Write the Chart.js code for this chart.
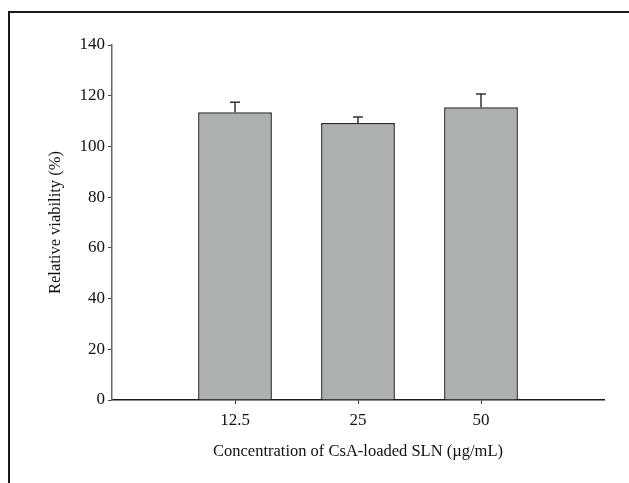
<!DOCTYPE html>
<html>
<head>
<meta charset="utf-8">
<script src="https://cdn.jsdelivr.net/npm/chart.js@4/dist/chart.umd.min.js"></script>
<style>
  html, body { margin: 0; padding: 0; background: #fff; }
  #wrap { width: 629px; height: 483px; position: relative; }
</style>
</head>
<body>
<div id="wrap"><canvas id="c" width="629" height="483"></canvas></div>
<script>
// ---- data ----
const categories = ['12.5', '25', '50'];
const viability = [113.5, 109.2, 115.5];
const viabilityErr = [3.9, 2.4, 5.2];
const yMin = 0, yMax = 140, yStep = 20;
const xTitle = 'Concentration of CsA-loaded SLN (\u00B5g/mL)';
const yTitle = 'Relative viability (%)';

// padded category axis: empty slot at each end
const labels = ['', ...categories, ''];
const values = [null, ...viability, null];
const errs = [null, ...viabilityErr, null];

const FONT = 'Liberation Serif, Times New Roman, serif';

const frame = {
  id: 'frame',
  beforeDraw(chart) {
    const ctx = chart.ctx;
    ctx.save();
    ctx.fillStyle = '#fff';
    ctx.fillRect(0, 0, chart.width, chart.height);
    ctx.strokeStyle = '#1a1a1a';
    ctx.lineWidth = 2;
    ctx.beginPath();
    ctx.moveTo(9, chart.height);
    ctx.lineTo(9, 12);
    ctx.lineTo(chart.width, 12);
    ctx.stroke();
    ctx.restore();
  }
};

const errorBars = {
  id: 'errorBars',
  afterDatasetsDraw(chart) {
    const ctx = chart.ctx;
    const meta = chart.getDatasetMeta(0);
    const y = chart.scales.y;
    ctx.save();
    ctx.strokeStyle = '#333';
    ctx.lineWidth = 1.5;
    meta.data.forEach((bar, i) => {
      const v = values[i], e = errs[i];
      if (v == null || e == null) return;
      const x = bar.x;
      const y0 = y.getPixelForValue(v);
      const y1 = y.getPixelForValue(v + e);
      ctx.beginPath();
      ctx.moveTo(x, y0);
      ctx.lineTo(x, y1);
      ctx.moveTo(x - 5, y1);
      ctx.lineTo(x + 5, y1);
      ctx.stroke();
    });
    ctx.restore();
  }
};

new Chart(document.getElementById('c'), {
  type: 'bar',
  data: {
    labels: labels,
    datasets: [{
      data: values,
      backgroundColor: '#adb0b0',
      borderColor: '#2a2a2a',
      borderWidth: 1.5,
      barPercentage: 0.6,
      categoryPercentage: 1.0
    }]
  },
  options: {
    responsive: false,
    animation: false,
    devicePixelRatio: 1,
    layout: { padding: { left: 0, right: 25, top: 45, bottom: 0 } },
    plugins: {
      legend: { display: false },
      tooltip: { enabled: false }
    },
    scales: {
      x: {
        type: 'category',
        offset: false,
        afterFit(scale) { scale.height = 83; },
        border: { display: true, color: '#1a1a1a', width: 1.5 },
        grid: {
          display: true,
          offset: false,
          drawOnChartArea: false,
          drawTicks: true,
          tickLength: 4,
          tickColor: (ctx) => (ctx.index === 0 || ctx.index === labels.length - 1) ? 'rgba(0,0,0,0)' : '#333'
        },
        ticks: {
          color: '#111',
          font: { family: FONT, size: 17 },
          padding: 6,
          maxRotation: 0,
          autoSkip: false
        },
        title: {
          display: true,
          text: xTitle,
          color: '#111',
          font: { family: FONT, size: 16.5 },
          padding: { top: 0, bottom: 21 }
        }
      },
      y: {
        min: yMin,
        max: yMax,
        afterFit(scale) { scale.width = 112; },
        border: { display: true, color: '#666', width: 1.5 },
        grid: {
          display: true,
          drawOnChartArea: false,
          drawTicks: true,
          tickLength: 4,
          tickColor: '#444'
        },
        ticks: {
          stepSize: yStep,
          color: '#111',
          font: { family: FONT, size: 17 },
          padding: 3
        },
        title: {
          display: true,
          text: yTitle,
          color: '#111',
          font: { family: FONT, size: 16.5 },
          padding: { top: 46, bottom: 0 }
        }
      }
    }
  },
  plugins: [frame, errorBars]
});
</script>
</body>
</html>
